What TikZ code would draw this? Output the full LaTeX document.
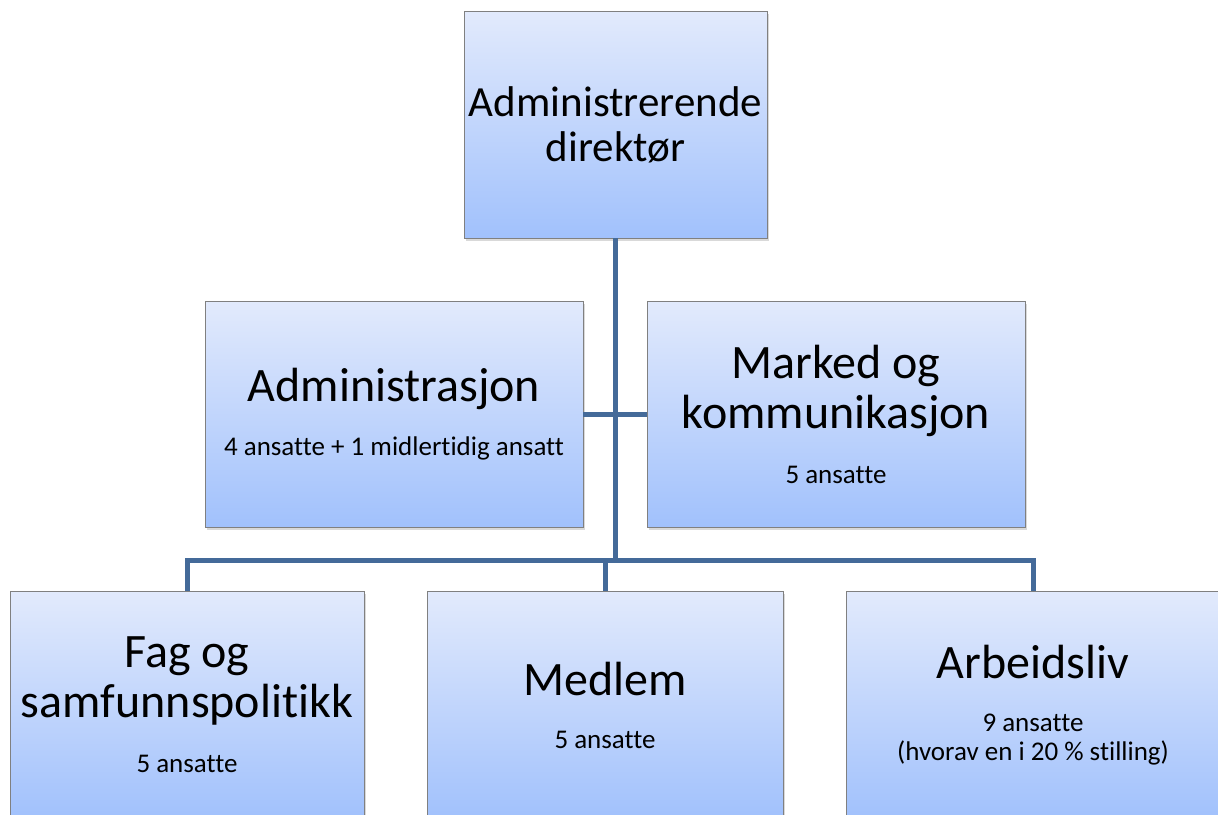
\documentclass[tikz,border=0pt]{standalone}
\usepackage{fontspec}
\setmainfont[Ligatures={NoCommon}]{Carlito}
\usetikzlibrary{shadows}
\definecolor{boxtop}{RGB}{226,234,252}
\definecolor{boxbot}{RGB}{161,193,252}
\definecolor{linkblue}{RGB}{68,106,153}
\newcommand\topsize{\fontsize{43}{45}\selectfont}
\newcommand\titlesize{\fontsize{48}{50}\selectfont}
\newcommand\subsize{\fontsize{27}{30}\selectfont}
\tikzset{
  unit/.style={draw=black!50, line width=0.7pt, top color=boxtop, bottom color=boxbot,
    drop shadow={opacity=0.3, shadow xshift=2pt, shadow yshift=-3pt},
    align=center, inner sep=0pt, font=\titlesize},
  link/.style={draw=linkblue, line width=5pt}
}
\begin{document}
\begin{tikzpicture}[x=1pt,y=-1pt]
\useasboundingbox (0,0) rectangle (1218,814);
\clip (0,0) rectangle (1218,814);
\node[unit, font=\topsize, minimum width=303pt, minimum height=227pt] (dir) at (615.5,124.5) {Administrerende\\direktør};
\node[unit, minimum width=378pt, minimum height=226pt] (adm) at (394,414) {Administrasjon\\[4pt]\subsize 4 ansatte + 1 midlertidig ansatt};
\node[unit, minimum width=378pt, minimum height=226pt] (mk) at (836,414) {Marked og\\kommunikasjon\\[5pt]\subsize 5 ansatte};
\node[unit, minimum width=354pt, minimum height=228pt] (fag) at (187,705) {Fag og\\samfunnspolitikk\\[5pt]\subsize 5 ansatte};
\node[unit, minimum width=356pt, minimum height=228pt] (med) at (605,705) {Medlem\\[3pt]\subsize 5 ansatte};
\node[unit, minimum width=374pt, minimum height=228pt] (arb) at (1033,705) {Arbeidsliv\\[3pt]\subsize 9 ansatte\\[-21pt]\subsize (hvorav en i 20 \% stilling)};
\coordinate (bus) at (615,560);
\draw[link] (dir.south) -- (dir.south |- bus);
\draw[link] (adm.east) -- (mk.west);
\draw[link] (fag.north) |- (bus) -| (arb.north);
\draw[link] (med.north) -- (med.north |- bus);
\end{tikzpicture}
\end{document}
